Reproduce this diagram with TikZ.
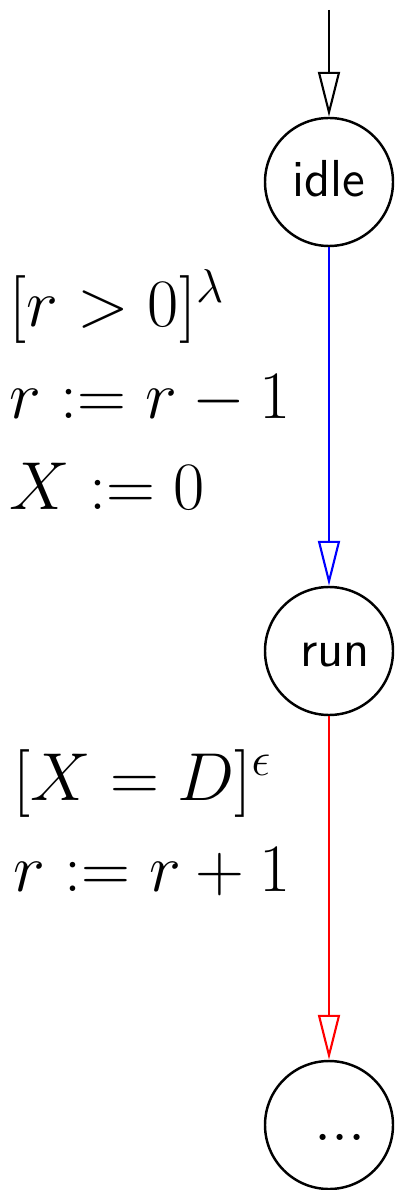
\RequirePackage{fix-cm}
\documentclass[tikz,border=0pt]{standalone}
\usetikzlibrary{arrows.meta}

\begin{document}
\begin{tikzpicture}[
    every node/.style={font=\fontsize{14.8}{18}\selectfont\sffamily},
    statenode/.style={circle, draw, line width=0.7pt, minimum size=1.28cm,
        inner sep=0pt, text height=0.36cm, text depth=0.06cm},
    trans/.style={line width=0.6pt, -{Triangle[open, length=0.45cm, width=0.22cm]}},
    guard/.style={align=left, text=black, inner sep=0pt,
        font=\fontsize{19.3}{26}\selectfont},
]
\useasboundingbox (0,0) rectangle (3.98,-11.9);

% States
\coordinate (start) at (3.29,-0.10);
\node[statenode] (idle) at (3.29,-1.82) {idle\hspace{0.14cm}};
\node[statenode] (run) at (3.29,-6.51) {\hspace{0.12cm}run};
\node[statenode, font=\fontsize{18}{22}\selectfont] (more) at (3.29,-11.25) {\hspace{0.22cm}$...$};

% Transitions
\draw[trans] (start) -- (idle);
\draw[trans, blue] (idle) -- (run)
    node[guard, pos=0.42, left=0.37cm] {$[r > 0]^\lambda$\\ $r := r - 1$\\ $X := 0$};
\draw[trans, red] (run) -- (more)
    node[guard, pos=0.31, left=0.37cm] {$[X = D]^\epsilon$\\ $r := r + 1$};
\end{tikzpicture}
\end{document}
